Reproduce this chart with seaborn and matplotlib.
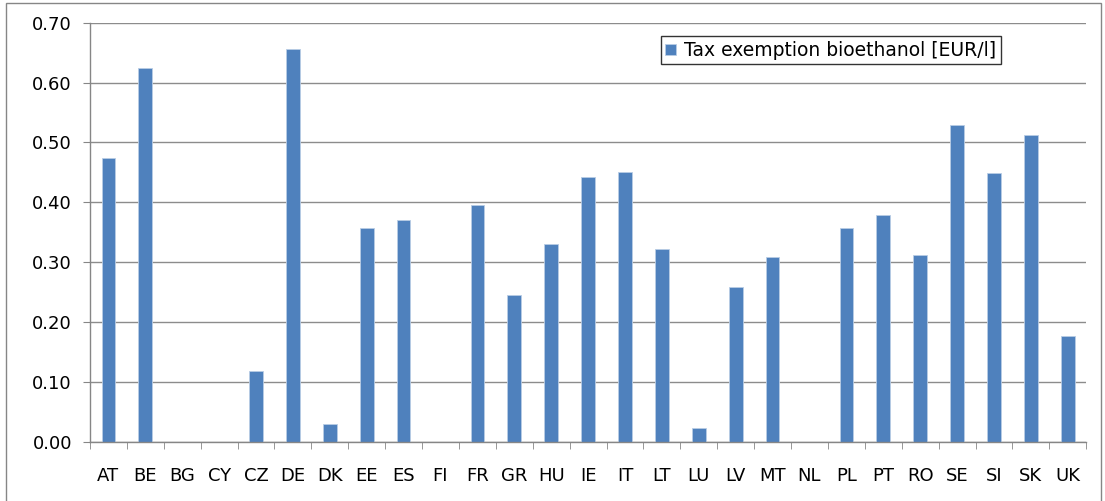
import numpy as np
import pandas as pd
import seaborn as sns
import matplotlib.pyplot as plt
from matplotlib.patches import Rectangle

# == Data == #
countries = ['AT', 'BE', 'BG', 'CY', 'CZ', 'DE', 'DK', 'EE', 'ES', 'FI',
             'FR', 'GR', 'HU', 'IE', 'IT', 'LT', 'LU', 'LV', 'MT', 'NL',
             'PL', 'PT', 'RO', 'SE', 'SI', 'SK', 'UK']
exemption = [0.474, 0.624, 0.0, 0.0, 0.119, 0.656, 0.030, 0.358, 0.370, 0.0,
             0.396, 0.246, 0.331, 0.442, 0.450, 0.322, 0.023, 0.258, 0.308, 0.0,
             0.358, 0.379, 0.312, 0.529, 0.449, 0.513, 0.177]
series_name = 'Tax exemption bioethanol [EUR/l]'

df = pd.DataFrame({'Country': countries, 'Value': exemption})

sns.set_style('white')
plt.rcParams['font.family'] = ['DejaVu Sans']
plt.rcParams['text.color'] = 'black'
plt.rcParams['xtick.labelcolor'] = 'black'
plt.rcParams['ytick.labelcolor'] = 'black'
plt.rcParams['xtick.major.size'] = 0
plt.rcParams['xtick.major.pad'] = 18
plt.rcParams['ytick.major.pad'] = 8

fig = plt.figure(figsize=(11.05, 5.01), dpi=100)
ax = fig.add_axes([0.0814, 0.1178, 0.9016, 0.8369])

sns.barplot(data=df, x='Country', y='Value', color='#4F81BD', saturation=1,
            width=0.37, edgecolor='#B9CDE5', linewidth=0.6,
            label=series_name, ax=ax)

ax.set_xlim(-0.5, len(countries) - 0.5)
ax.set_ylim(0, 0.70)
yt = np.arange(0, 0.71, 0.1)
ax.set_yticks(yt)
ax.set_yticklabels([f'{v:.2f}' for v in yt], fontsize=13)
ax.set_xticks(range(len(countries)))
ax.set_xticklabels(countries, fontsize=13)
ax.set_xlabel('')
ax.set_ylabel('')

ax.yaxis.grid(True, color='#8C8C8C', linewidth=1.0)
ax.set_axisbelow(True)

for s in ['top', 'right']:
    ax.spines[s].set_visible(False)
for s in ['left', 'bottom']:
    ax.spines[s].set_color('#868686')
    ax.spines[s].set_linewidth(1.0)

ax.set_xticks(np.arange(-0.5, len(countries), 1.0), minor=True)
ax.tick_params(axis='x', which='minor', length=5, color='#868686',
               bottom=True, direction='out')
ax.tick_params(axis='x', which='major', length=0, pad=18, labelcolor='black')
ax.tick_params(axis='y', which='major', length=5, color='#868686', pad=8,
               left=True, direction='out', labelcolor='black')

leg = ax.legend(loc='upper left', bbox_to_anchor=(0.573, 0.968), fontsize=13.5,
                frameon=True, fancybox=False, handlelength=0.55, handleheight=0.55,
                handletextpad=0.45, borderpad=0.25, borderaxespad=0)
leg.get_frame().set_edgecolor('black')
leg.get_frame().set_linewidth(1.0)

# outer chart border
fig.patches.append(Rectangle((6 / 1105, -0.05), 1095 / 1105, 1.05 - 3 / 501,
                             transform=fig.transFigure, fill=False,
                             edgecolor='#868686', linewidth=1.0))

plt.savefig('out.png', dpi=100)
